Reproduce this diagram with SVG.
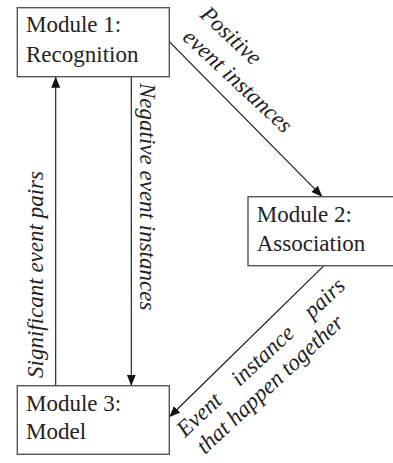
<svg xmlns="http://www.w3.org/2000/svg" width="393" height="463" viewBox="0 0 393 463">
<style>
.box{fill:#fff;stroke:#555;stroke-width:1.4}
.lbl{font-family:"Liberation Serif","Times New Roman",serif;font-size:23px;fill:#222}
.it{font-family:"Liberation Serif","Times New Roman",serif;font-size:23px;font-style:italic;fill:#222}
.edge{fill:none;stroke:#111;stroke-width:1.1}
</style>
<defs>
<marker id="ah" markerUnits="userSpaceOnUse" markerWidth="12" markerHeight="10" refX="11" refY="4.5" orient="auto">
<path d="M0,0 L11,4.5 L0,9 Z" fill="#111"/>
</marker>
</defs>
<rect width="393" height="463" fill="#fff"/>
<g id="connectors">
<line class="edge" x1="169.3" y1="41.7" x2="322.3" y2="196.7" marker-end="url(#ah)"/>
<line class="edge" x1="324" y1="265.7" x2="169.3" y2="417" marker-end="url(#ah)"/>
<line class="edge" x1="55.7" y1="385.7" x2="55.7" y2="76.7" marker-end="url(#ah)"/>
<line class="edge" x1="131.3" y1="76.7" x2="131.3" y2="385.7" marker-end="url(#ah)"/>
<text class="it" transform="translate(199,16) rotate(43)">Positive</text>
<text class="it" transform="translate(181.6,38.7) rotate(43)">event instances</text>
<text class="it" transform="translate(140,83) rotate(90)">Negative event instances</text>
<text class="it" transform="translate(43,378) rotate(-90)">Significant event pairs</text>
<g transform="translate(185,438) rotate(-43)">
<text class="it" x="0" y="0">Event</text>
<text class="it" x="74.7" y="0">instance</text>
<text class="it" x="173.7" y="0">pairs</text>
<text class="it" x="3" y="26">that happen together</text>
</g>
</g>
<g id="module1">
<rect class="box" x="17.3" y="7.7" width="152" height="69"/>
<text class="lbl" x="26" y="32.3">Module 1:</text>
<text class="lbl" x="26" y="62.3">Recognition</text>
</g>
<g id="module2">
<rect class="box" x="248" y="196.7" width="150" height="69"/>
<text class="lbl" x="256.7" y="221.7">Module 2:</text>
<text class="lbl" x="256.7" y="251">Association</text>
</g>
<g id="module3">
<rect class="box" x="17.3" y="385.7" width="152" height="68.6"/>
<text class="lbl" x="26" y="410.7">Module 3:</text>
<text class="lbl" x="26" y="439.3">Model</text>
</g>
</svg>
